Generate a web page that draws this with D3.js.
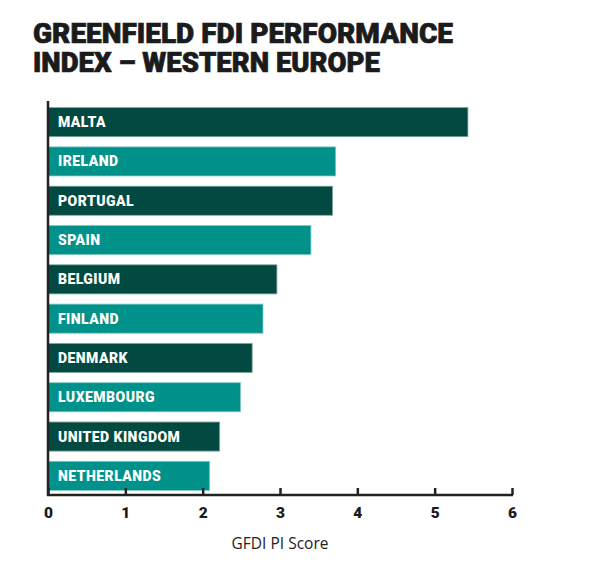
<!DOCTYPE html>
<html><head><meta charset="utf-8">
<script src="https://cdn.jsdelivr.net/npm/d3@7/dist/d3.min.js"></script>
<style>body{margin:0;background:#fff}svg{display:block}</style>
</head><body>
<svg id="c" width="600" height="564"></svg>
<script>
const countries = ["MALTA","IRELAND","PORTUGAL","SPAIN","BELGIUM","FINLAND","DENMARK","LUXEMBOURG","UNITED KINGDOM","NETHERLANDS"];
const scores = [5.43, 3.72, 3.68, 3.40, 2.96, 2.78, 2.64, 2.49, 2.22, 2.09];
const xTicks = [0,1,2,3,4,5,6];
const titleLines = ["GREENFIELD FDI PERFORMANCE","INDEX – WESTERN EUROPE"];
const axisTitle = "GFDI PI Score";

const data = countries.map((c,i)=>({c, v:scores[i], i}));
const svg = d3.select("#c");
const dark = "#024a41", teal = "#00928a";
const heavy = "Roboto, 'Noto Sans', sans-serif";

const x = d3.scaleLinear().domain([0,6]).range([48,512]);
const y = d3.scaleBand().domain(countries).range([103,495]).paddingInner(0.26).paddingOuter(0.117);

// title (one text element, two lines)
const tw = [420, 347];
const title = svg.append("text").attr("class","title")
  .style("font-family",heavy).style("font-weight",900)
  .style("font-size","27px").attr("fill","#1b1b1b")
  .attr("stroke","#1b1b1b").attr("stroke-width",0.7);
title.selectAll("tspan").data(titleLines).join("tspan")
  .attr("x",33).attr("y",(d,i)=>43+i*29)
  .attr("textLength",(d,i)=>tw[i]).attr("lengthAdjust","spacingAndGlyphs")
  .text(d=>d);

// bars
svg.selectAll("rect.bar").data(data).join("rect")
  .attr("class","bar")
  .attr("x",x(0)+0.5).attr("y",d=>y(d.c))
  .attr("width",d=>x(d.v)-x(0)-0.5).attr("height",y.bandwidth())
  .attr("fill",d=>d.i%2===0?dark:teal)
  .attr("stroke",d=>d.i%2===0?"#7fa8a0":"#7fcac4").attr("stroke-width",0.8);

svg.selectAll("text.lab").data(data).join("text")
  .attr("class","lab")
  .attr("x",58).attr("y",d=>y(d.c)+y.bandwidth()/2).attr("dy","0.36em")
  .style("font-family",heavy).style("font-weight",900)
  .style("font-size","14px").style("letter-spacing","0.45px")
  .attr("fill","#fff").text(d=>d.c);

// x axis
const ax = svg.append("g").attr("transform","translate(0,495)")
  .call(d3.axisBottom(x).tickValues(xTicks).tickSize(-7).tickPadding(12).tickFormat(d3.format("d")));
ax.select(".domain").attr("stroke","#222").attr("stroke-width",2.5).attr("d","M47,0H513");
ax.selectAll(".tick line").attr("stroke","#222").attr("stroke-width",2.5);
ax.selectAll(".tick text").attr("fill","#1b1b1b")
  .style("font-family",heavy).style("font-weight",900).style("font-size","15.5px");

// y axis line
svg.append("line").attr("x1",x(0)).attr("x2",x(0)).attr("y1",101).attr("y2",496)
  .attr("stroke","#222").attr("stroke-width",2.5);

svg.append("text").attr("x",(x(0)+x(6))/2).attr("y",549).attr("text-anchor","middle")
  .style("font-family","'Open Sans', 'Noto Sans', sans-serif").style("font-size","15.5px")
  .attr("fill","#222").text(axisTitle);
</script>
</body></html>
